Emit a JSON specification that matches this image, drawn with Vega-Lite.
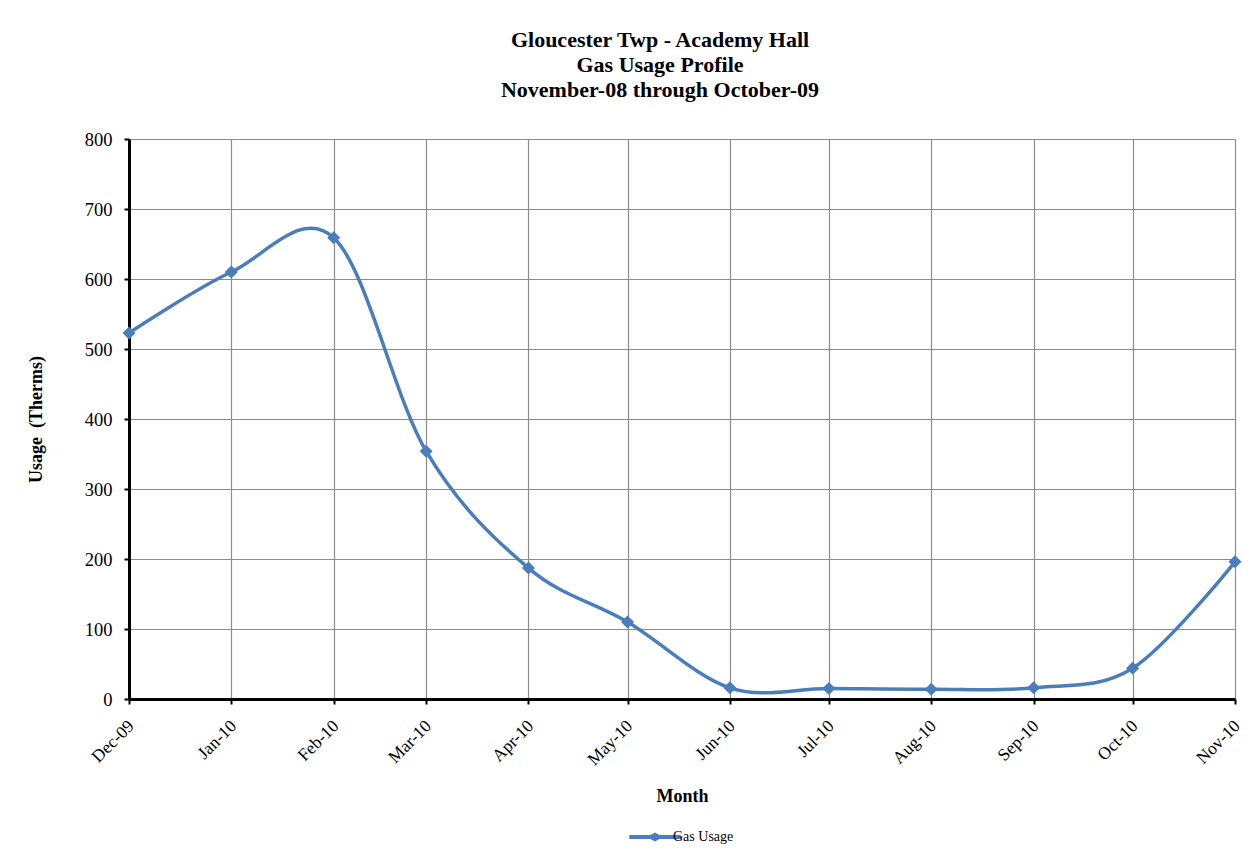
{
  "$schema": "https://vega.github.io/schema/vega-lite/v6.json",
  "width": 1106,
  "height": 560,
  "autosize": {"type": "none"},
  "padding": {"left": 129, "top": 139, "right": 25, "bottom": 158},
  "background": "white",
  "title": {
    "text": ["Gloucester Twp - Academy Hall", "Gas Usage Profile", "November-08 through October-09"],
    "font": "Liberation Serif",
    "fontSize": 22,
    "fontWeight": "bold",
    "color": "black",
    "lineHeight": 25,
    "anchor": "middle",
    "frame": "group",
    "dx": -22,
    "offset": 28
  },
  "data": {
    "values": [
      {"month": "2009-12-01", "usage": 523, "series": "Gas Usage"},
      {"month": "2010-01-01", "usage": 610, "series": "Gas Usage"},
      {"month": "2010-02-01", "usage": 659, "series": "Gas Usage"},
      {"month": "2010-03-01", "usage": 354, "series": "Gas Usage"},
      {"month": "2010-04-01", "usage": 187, "series": "Gas Usage"},
      {"month": "2010-05-01", "usage": 110, "series": "Gas Usage"},
      {"month": "2010-06-01", "usage": 16, "series": "Gas Usage"},
      {"month": "2010-07-01", "usage": 15, "series": "Gas Usage"},
      {"month": "2010-08-01", "usage": 14, "series": "Gas Usage"},
      {"month": "2010-09-01", "usage": 16, "series": "Gas Usage"},
      {"month": "2010-10-01", "usage": 44, "series": "Gas Usage"},
      {"month": "2010-11-01", "usage": 196, "series": "Gas Usage"}
    ]
  },
  "mark": {
    "type": "line",
    "interpolate": "cardinal",
    "tension": 0,
    "strokeWidth": 3.5,
    "point": {"shape": "diamond", "size": 170, "filled": true, "opacity": 1}
  },
  "encoding": {
    "x": {
      "field": "month",
      "type": "temporal",
      "scale": {"type": "utc", "nice": false},
      "axis": {
        "title": "Month",
        "labelExpr": "utcFormat(datum.value, '%b-%y')",
        "tickCount": {"interval": "month", "step": 1},
        "labelAngle": -45,
        "labelAlign": "right",
        "labelBaseline": "middle",
        "labelPadding": 19,
        "labelOffset": 2,
        "labelFontSize": 17.5,
        "labelFlush": false,
        "titleFontSize": 18,
        "titlePadding": 19
      }
    },
    "y": {
      "field": "usage",
      "type": "quantitative",
      "scale": {"domain": [0, 800], "nice": false},
      "axis": {
        "title": "Usage\u00a0\u00a0(Therms)",
        "values": [0, 100, 200, 300, 400, 500, 600, 700, 800],
        "labelFontSize": 18.5,
        "labelPadding": 12,
        "titleFontSize": 18,
        "titlePadding": 39
      }
    },
    "color": {
      "field": "series",
      "type": "nominal",
      "scale": {"range": ["#4a7ebb"]},
      "legend": {
        "title": null,
        "orient": "none",
        "legendX": 513,
        "legendY": 685,
        "symbolType": "M-2,-0.16H-0.36L0,-0.36L0.36,-0.16H2V0.16H0.36L0,0.36L-0.36,0.16H-2Z",
        "symbolSize": 660,
        "symbolStrokeWidth": 0,
        "symbolFillColor": "#4a7ebb",
        "labelFont": "Liberation Serif",
        "labelFontSize": 14,
        "labelColor": "black",
        "labelOffset": 5
      }
    }
  },
  "config": {
    "font": "Liberation Serif",
    "view": {"stroke": null},
    "axis": {
      "labelFont": "Liberation Serif",
      "titleFont": "Liberation Serif",
      "labelColor": "black",
      "titleColor": "black",
      "titleFontWeight": "bold",
      "domainColor": "black",
      "domainWidth": 3,
      "tickColor": "black",
      "tickWidth": 2,
      "tickSize": 5,
      "grid": true,
      "gridColor": "#8c8c8c",
      "gridWidth": 1.2
    }
  }
}
